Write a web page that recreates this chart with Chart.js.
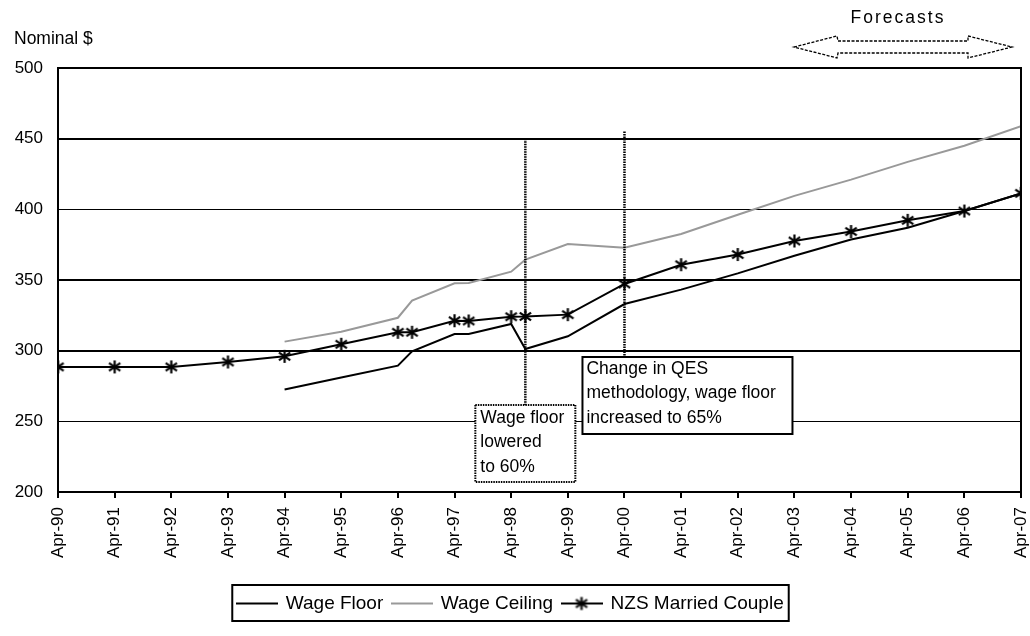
<!DOCTYPE html>
<html>
<head>
<meta charset="utf-8">
<script src="https://cdn.jsdelivr.net/npm/chart.js@4.4.1/dist/chart.umd.min.js"></script>
<style>
  html, body { margin: 0; padding: 0; background: #fff; }
</style>
</head>
<body>
<canvas id="chart" width="1030" height="636"></canvas>
<script>
// data
const nzsDates = ['Apr-90', 'Apr-91', 'Apr-92', 'Apr-93', 'Apr-94', 'Apr-95', 'Apr-96', 'Jul-96',
  'Apr-97', 'Jul-97', 'Apr-98', 'Jul-98', 'Apr-99', 'Apr-00', 'Apr-01', 'Apr-02', 'Apr-03',
  'Apr-04', 'Apr-05', 'Apr-06', 'Apr-07'];
const nzsValues = [288.5, 288.5, 288.5, 292, 296, 304.5, 313, 313, 321.2, 321, 324, 324.2,
  325.5, 347.2, 360.8, 368, 377.6, 384.3, 392.2, 398.8, 411.3];

const wageDates = ['Apr-94', 'Apr-95', 'Apr-96', 'Jul-96', 'Apr-97', 'Jul-97', 'Apr-98', 'Jul-98',
  'Apr-99', 'Apr-00', 'Apr-01', 'Apr-02', 'Apr-03', 'Apr-04', 'Apr-05', 'Apr-06', 'Apr-07'];
const floorValues = [272.5, 281, 289.4, 299.5, 311.8, 311.8, 318.9, 301.2, 310.2, 333, 343.2,
  354.7, 367.2, 378.6, 387, 398.8, 411.3];
const ceilingValues = [306.4, 313.4, 323.3, 335.4, 347.7, 347.9, 355.9, 364.4, 375.5, 372.9,
  382.6, 396.2, 409.5, 421, 433.6, 445, 458.8];

const yTicks = [200, 250, 300, 350, 400, 450, 500];
const thickGrid = [200, 300, 350, 450, 500];

const FONT = "'Liberation Sans', Arial, sans-serif";
const MONTHS = { Jan: 0, Feb: 1, Mar: 2, Apr: 3, May: 4, Jun: 5, Jul: 6, Aug: 7, Sep: 8, Oct: 9, Nov: 10, Dec: 11 };

// "Apr-96" -> years since Apr-90
function toX(label) {
  const [m, y] = label.split('-');
  const year = +y < 50 ? 2000 + +y : 1900 + +y;
  return (year - 1990) + (MONTHS[m] - 3) / 12;
}

function asterisk(size) {
  const c = document.createElement('canvas');
  c.width = size; c.height = size;
  const g = c.getContext('2d');
  const m = size / 2, r = size / 2 - 1;
  g.strokeStyle = '#000';
  g.lineWidth = 2.2;
  g.beginPath();
  g.moveTo(m, m - r); g.lineTo(m, m + r);
  g.moveTo(m - r * 0.87, m - r * 0.6); g.lineTo(m + r * 0.87, m + r * 0.6);
  g.moveTo(m - r * 0.87, m + r * 0.6); g.lineTo(m + r * 0.87, m - r * 0.6);
  g.stroke();
  return c;
}

function legendIcon(color, withMarker) {
  const c = document.createElement('canvas');
  c.width = 42; c.height = 16;
  const g = c.getContext('2d');
  g.strokeStyle = color;
  g.lineWidth = 2;
  g.beginPath();
  g.moveTo(0, 8); g.lineTo(42, 8);
  g.stroke();
  if (withMarker) g.drawImage(asterisk(15), 13.5, 0.5);
  return c;
}

const marker = asterisk(15);
const icons = [legendIcon('#000', false), legendIcon('#999', false), legendIcon('#000', true)];

const frame = {
  id: 'frame',
  afterDatasetsDraw(chart) {
    const { ctx, chartArea: a, scales: { x, y } } = chart;
    ctx.save();
    ctx.strokeStyle = '#000';
    ctx.lineWidth = 2;
    ctx.strokeRect(a.left, a.top, a.right - a.left, a.bottom - a.top);

    // dotted guide lines and note boxes
    const x98 = x.getPixelForValue(toX('Jul-98'));
    const x00 = x.getPixelForValue(toX('Apr-00'));
    ctx.lineWidth = 2.5;
    ctx.setLineDash([1.5, 1]);
    ctx.beginPath();
    ctx.moveTo(x98, y.getPixelForValue(450)); ctx.lineTo(x98, 405);
    ctx.moveTo(x00, y.getPixelForValue(455)); ctx.lineTo(x00, 357);
    ctx.stroke();

    ctx.fillStyle = '#fff';
    ctx.fillRect(x98 - 50, 405, 100, 77);
    ctx.lineWidth = 2;
    ctx.strokeRect(x98 - 50, 405, 100, 77);
    ctx.setLineDash([]);
    ctx.fillRect(x00 - 42, 357, 210, 77);
    ctx.lineWidth = 2;
    ctx.strokeRect(x00 - 42, 357, 210, 77);

    ctx.fillStyle = '#000';
    ctx.font = '17.5px ' + FONT;
    ctx.textBaseline = 'middle';
    ctx.textAlign = 'left';
    ['Wage floor', 'lowered', 'to 60%'].forEach((t, i) => ctx.fillText(t, x98 - 45, 418 + i * 24.5));
    ['Change in QES', 'methodology, wage floor', 'increased to 65%'].forEach((t, i) => ctx.fillText(t, x00 - 38, 369 + i * 24.5));

    // axis title
    ctx.fillText('Nominal $', 14, 39);

    // forecasts arrow
    ctx.textAlign = 'center';
    ctx.letterSpacing = '2px';
    ctx.fillText('Forecasts', 898, 18);
    ctx.letterSpacing = '0px';
    ctx.setLineDash([3, 1.5]);
    ctx.lineWidth = 1.3;
    ctx.beginPath();
    ctx.moveTo(794, 47);
    ctx.lineTo(837, 36); ctx.lineTo(838, 41); ctx.lineTo(968, 41); ctx.lineTo(968, 36);
    ctx.lineTo(1012, 47);
    ctx.lineTo(968, 58); ctx.lineTo(968, 53); ctx.lineTo(838, 53); ctx.lineTo(837, 58);
    ctx.closePath();
    ctx.stroke();
    ctx.restore();
  },
  afterDraw(chart) {
    const boxes = chart.legend.legendHitBoxes;
    if (!boxes || !boxes.length) return;
    const first = boxes[0], last = boxes[boxes.length - 1];
    const { ctx } = chart;
    ctx.save();
    ctx.strokeStyle = '#000';
    ctx.lineWidth = 2;
    const l = first.left - 5, r = last.left + last.width + 5;
    const t = first.top - 9, b = first.top + first.height + 8;
    ctx.strokeRect(l, t, r - l, b - t);
    ctx.restore();
  }
};

new Chart(document.getElementById('chart'), {
  type: 'line',
  data: {
    datasets: [
      {
        label: 'Wage Floor',
        data: wageDates.map((d, i) => ({ x: toX(d), y: floorValues[i] })),
        borderColor: '#000',
        borderWidth: 2,
        pointRadius: 0
      },
      {
        label: 'Wage Ceiling',
        data: wageDates.map((d, i) => ({ x: toX(d), y: ceilingValues[i] })),
        borderColor: '#999',
        borderWidth: 2,
        pointRadius: 0
      },
      {
        label: 'NZS Married Couple',
        data: nzsDates.map((d, i) => ({ x: toX(d), y: nzsValues[i] })),
        borderColor: '#000',
        borderWidth: 2,
        pointStyle: marker,
        pointRadius: 7
      }
    ]
  },
  options: {
    responsive: false,
    animation: false,
    devicePixelRatio: 1,
    layout: { padding: { left: 0, right: 9, top: 68, bottom: 13 } },
    plugins: {
      tooltip: { enabled: false },
      legend: {
        position: 'bottom',
        labels: {
          usePointStyle: true,
          pointStyleWidth: 39,
          boxHeight: 16,
          padding: 9,
          color: '#000',
          font: { family: FONT, size: 19 },
          generateLabels: chart => chart.data.datasets.map((ds, i) => ({
            text: ds.label,
            pointStyle: icons[i],
            fillStyle: 'transparent',
            strokeStyle: 'transparent',
            lineWidth: 0,
            hidden: false,
            datasetIndex: i,
            fontColor: '#000'
          }))
        }
      }
    },
    scales: {
      x: {
        type: 'linear',
        min: 0,
        max: 17,
        afterFit: s => { s.height = 93; s.paddingLeft = 0; s.paddingRight = 0; },
        ticks: {
          stepSize: 1,
          autoSkip: false,
          minRotation: 90,
          maxRotation: 90,
          padding: 9,
          color: '#000',
          font: { family: FONT, size: 17 },
          callback: v => 'Apr-' + String((90 + v) % 100).padStart(2, '0')
        },
        grid: { drawOnChartArea: false, drawTicks: true, tickLength: 6, color: '#000', lineWidth: 2 },
        border: { display: true, color: '#000', width: 2 }
      },
      y: {
        min: 200,
        max: 500,
        afterFit: s => { s.width = 58; },
        afterBuildTicks: s => { s.ticks = yTicks.map(v => ({ value: v })); },
        ticks: {
          padding: 15,
          color: '#000',
          font: { family: FONT, size: 17 }
        },
        grid: {
          drawTicks: false,
          color: '#000',
          lineWidth: c => (thickGrid.includes(c.tick && c.tick.value) ? 2 : 1)
        },
        border: { display: true, color: '#000', width: 2 }
      }
    }
  },
  plugins: [frame]
});
</script>
</body>
</html>
